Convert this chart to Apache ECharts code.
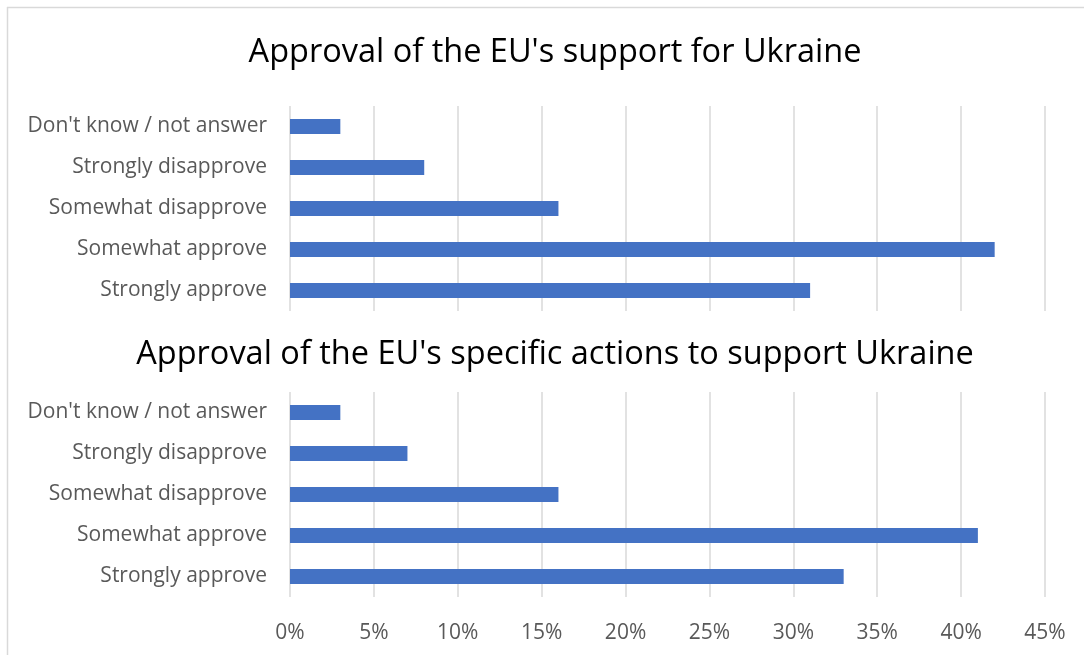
<!DOCTYPE html>
<html>
<head>
<meta charset="utf-8">
<script src="https://cdn.jsdelivr.net/npm/echarts@6/dist/echarts.min.js"></script>
<style>html,body{margin:0;padding:0;background:#fff}#c{width:1084px;height:655px}</style>
</head>
<body>
<div id="c"></div>
<script>
var categories = ['Strongly approve', 'Somewhat approve', 'Somewhat disapprove', 'Strongly disapprove', "Don't know / not answer"];
var supportValues = [31, 42, 16, 8, 3];
var actionsValues = [33, 41, 16, 7, 3];
var titleTop = "Approval of the EU's support for Ukraine";
var titleBottom = "Approval of the EU's specific actions to support Ukraine";

var chart = echarts.init(document.getElementById('c'), null, {renderer: 'canvas'});
var font = 'Open Sans';
var labelColor = '#595959';
var gridColor = '#d9d9d9';
function xAxis(gridIndex, showLabels) {
  return {
    type: 'value', gridIndex: gridIndex, min: 0, max: 45, interval: 5,
    axisLine: {show: false}, axisTick: {show: false},
    axisLabel: {show: showLabels, formatter: function (v) { return v + '%'; }, color: labelColor, fontSize: 21, fontFamily: font, margin: 26},
    splitLine: {show: true, lineStyle: {color: gridColor, width: 1.5}}
  };
}
function yAxis(gridIndex) {
  return {
    type: 'category', gridIndex: gridIndex, data: categories,
    axisLine: {show: false}, axisTick: {show: false},
    axisLabel: {color: labelColor, fontSize: 21, fontFamily: font, margin: 23, padding: [4, 0, 0, 0]}
  };
}
chart.setOption({
  animation: false,
  backgroundColor: '#fff',
  title: [
    {text: titleTop, left: 550, textAlign: 'center', top: 31, textStyle: {fontFamily: font, fontSize: 32.5, fontWeight: 'normal', color: '#000'}},
    {text: titleBottom, left: 550, textAlign: 'center', top: 333, textStyle: {fontFamily: font, fontSize: 32.5, fontWeight: 'normal', color: '#000'}}
  ],
  grid: [
    {left: 290, width: 755, top: 106, height: 205},
    {left: 290, width: 755, top: 392, height: 205}
  ],
  xAxis: [xAxis(0, false), xAxis(1, true)],
  yAxis: [yAxis(0), yAxis(1)],
  series: [
    {type: 'bar', xAxisIndex: 0, yAxisIndex: 0, data: supportValues, barWidth: 15, itemStyle: {color: '#4472C4'}},
    {type: 'bar', xAxisIndex: 1, yAxisIndex: 1, data: actionsValues, barWidth: 15, itemStyle: {color: '#4472C4'}}
  ],
  graphic: [
    {type: 'line', shape: {x1: 7, y1: 7.5, x2: 1084, y2: 7.5}, style: {stroke: '#d9d9d9', lineWidth: 1.5}, silent: true},
    {type: 'line', shape: {x1: 7.5, y1: 7, x2: 7.5, y2: 655}, style: {stroke: '#d9d9d9', lineWidth: 1.5}, silent: true}
  ]
});
</script>
</body>
</html>
